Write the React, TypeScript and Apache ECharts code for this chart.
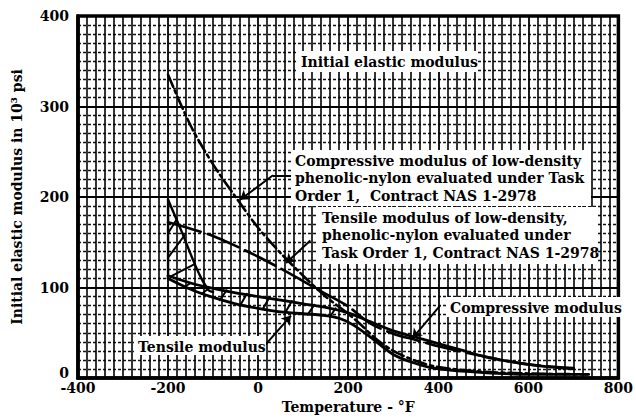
import React, { useEffect, useRef } from 'react';
import * as echarts from 'echarts';

type Pt = [number, number];

// Axis ranges and tick steps
const xRange: Pt = [-400, 800];
const yRange: Pt = [0, 400];
const xStep = 200;
const yStep = 100;

// Compressive modulus, low-density phenolic-nylon, Task Order 1 (dash-dot)
const compressiveTO1: Pt[] = [
  [-200, 335], [-150, 279], [-100, 236], [-50, 200], [0, 166], [50, 138],
  [100, 113], [150, 90], [200, 71], [230, 58], [260, 44], [300, 30],
  [350, 19], [400, 12], [500, 7], [600, 5], [730, 4],
];

// Tensile modulus, low-density phenolic-nylon, Task Order 1 (long dash)
const tensileTO1: Pt[] = [
  [-200, 172], [-150, 165], [-100, 157], [-50, 146], [0, 134], [50, 121],
  [100, 107], [150, 93], [200, 79], [250, 60], [300, 49], [350, 42],
  [400, 35], [500, 24], [600, 15], [700, 11],
];

// Compressive modulus (upper edge of the scatter band, then the compressive curve)
const compressiveModulus: Pt[] = [
  [-200, 113], [-150, 105], [-100, 99], [-50, 94], [0, 90], [50, 86],
  [100, 82], [150, 78], [200, 72], [250, 62], [300, 52], [350, 45],
  [400, 38], [450, 31], [500, 24], [550, 19], [600, 15], [650, 12], [700, 10],
];

// Tensile modulus (lower edge of the scatter band, then the tensile curve)
const tensileModulus: Pt[] = [
  [-200, 110], [-150, 98], [-100, 89], [-50, 82], [0, 77], [50, 73],
  [100, 71], [150, 69], [180, 66], [210, 59], [250, 45], [300, 26],
  [350, 16], [400, 10], [500, 6], [600, 4], [734, 4],
];

// Low-temperature tensile scatter wedge: outer edges
const wedgeRight: Pt[] = [[-200, 197], [-170, 162], [-145, 131], [-128, 112], [-110, 97], [-100, 95]];
const wedgeLeft: Pt[] = [[-200, 197], [-200, 110]];

// Hatching inside the wedge and the band
const hatchSegments: Pt[][] = [
  [[-200, 133], [-163, 158]],
  [[-200, 160], [-180, 176]],
  [[-195, 112], [-140, 126]],
  [[-165, 100], [-150, 105]],
  [[-125, 93], [-110, 99]],
  [[-85, 86], [-70, 97]],
  [[-40, 80], [-25, 93]],
  [[10, 76], [25, 89]],
  [[60, 72], [75, 85]],
  [[110, 70], [125, 81]],
  [[160, 68], [172, 77]],
];

// Pointer arrows from the notes to the curves
const pointers: { from: Pt; to: Pt; head: boolean }[] = [
  { from: [76, 224], to: [33, 224], head: false },
  { from: [33, 224], to: [-40, 197], head: true },
  { from: [116, 152], to: [62, 127], head: true },
  { from: [404, 80], to: [343, 44], head: true },
  { from: [15, 36], to: [73, 69], head: true },
];

// Notes
const noteInitial = ['Initial elastic modulus'];
const noteCompressiveTO1 = [
  'Compressive modulus of low-density',
  'phenolic-nylon evaluated under Task',
  'Order 1,  Contract NAS 1-2978',
];
const noteTensileTO1 = [
  'Tensile modulus of low-density,',
  'phenolic-nylon evaluated under',
  'Task Order 1, Contract NAS 1-2978',
];
const noteCompressive = ['Compressive modulus'];
const noteTensile = ['Tensile modulus'];

const xTitle = 'Temperature - °F';
const yTitle = 'Initial elastic modulus in 10³ psi';

const SERIF = "'DejaVu Serif', 'Liberation Serif', serif";
const INK = '#000';

function noteBox(lines: string[], x: number, y: number, w: number, h: number, size = 14) {
  return {
    type: 'group',
    children: [
      { type: 'rect', z: 100, shape: { x, y, width: w, height: h }, style: { fill: '#fff' } },
      {
        type: 'text',
        z: 101,
        x: x + 4,
        y: y + 2,
        style: {
          text: lines.join('\n'),
          fontFamily: SERIF,
          fontWeight: 'bold',
          fontSize: size,
          fill: INK,
          lineHeight: 17.5,
        },
      },
    ],
  };
}

export default function App() {
  const ref = useRef<HTMLDivElement>(null);

  useEffect(() => {
    if (!ref.current) return;
    const chart = echarts.init(ref.current, null, { renderer: 'svg' });

    const line = (data: Pt[], width: number, type: any = 'solid') => ({
      type: 'line',
      data,
      showSymbol: false,
      symbol: 'none',
      smooth: 0.3,
      silent: true,
      lineStyle: { color: INK, width, type, cap: 'round' },
      z: 5,
    });

    const series: any[] = [
      line(compressiveTO1, 2.6, [13, 4, 3, 4]),
      line(tensileTO1, 2.6, [34, 7]),
      line(compressiveModulus, 2.8),
      {
        ...line(tensileModulus, 2.8),
        markLine: {
          silent: true,
          symbol: ['none', 'arrow'],
          symbolSize: 9,
          label: { show: false },
          lineStyle: { color: INK, width: 2, type: 'solid' },
          data: pointers.map((p) => [
            { coord: p.from, symbol: 'none' },
            { coord: p.to, symbol: p.head ? 'arrow' : 'none' },
          ]),
        },
      },
      line(wedgeRight, 2.4),
      { ...line(wedgeLeft, 2.4), smooth: false },
      ...hatchSegments.map((s) => ({ ...line(s, 2), smooth: false })),
    ];

    const axisLabel = {
      color: INK,
      fontFamily: SERIF,
      fontWeight: 'bold',
      fontSize: 14,
    };

    chart.setOption({
      animation: false,
      backgroundColor: '#fff',
      grid: {
        left: 78,
        right: 10,
        top: 16,
        bottom: 39,
        show: true,
        borderColor: INK,
        borderWidth: 3.5,
        backgroundColor: 'transparent',
      },
      xAxis: {
        type: 'value',
        min: xRange[0],
        max: xRange[1],
        interval: xStep,
        name: xTitle,
        nameLocation: 'middle',
        nameGap: 22,
        nameTextStyle: { ...axisLabel, fontSize: 14 },
        axisLine: { show: true, onZero: false, lineStyle: { color: INK, width: 3.5 } },
        axisTick: { show: false },
        axisLabel: { ...axisLabel, margin: 3 },
        splitLine: { show: true, lineStyle: { color: INK, width: 1.8 } },
        minorTick: { show: false, splitNumber: 10 },
        minorSplitLine: { show: true, lineStyle: { color: INK, width: 1.6 } },
      },
      yAxis: {
        type: 'value',
        min: yRange[0],
        max: yRange[1],
        interval: yStep,
        name: yTitle,
        nameLocation: 'middle',
        nameRotate: 90,
        nameGap: 54,
        nameTextStyle: { ...axisLabel, fontSize: 14 },
        axisLine: { show: true, onZero: false, lineStyle: { color: INK, width: 3.5 } },
        axisTick: { show: false },
        axisLabel: {
          ...axisLabel,
          margin: 9,
          formatter: (v: number) => (v === yRange[0] ? `{low|${v}}` : `${v}`),
          rich: { low: { ...axisLabel, padding: [0, 0, 10, 0] } },
        },
        splitLine: { show: true, lineStyle: { color: INK, width: 1.8 } },
        minorTick: { show: false, splitNumber: 10 },
        minorSplitLine: { show: true, lineStyle: { color: '#111', width: 1.3, type: [3, 2] } },
      },
      series,
      graphic: [
        noteBox(noteInitial, 297, 51, 181, 21),
        noteBox(noteCompressiveTO1, 291, 150, 300, 56),
        noteBox(noteTensileTO1, 318, 207, 280, 57),
        noteBox(noteCompressive, 446, 297, 175, 20),
        noteBox(noteTensile, 134, 336, 132, 19),
      ],
    });

    return () => chart.dispose();
  }, []);

  return (
    <div
      ref={ref}
      style={{ position: 'fixed', left: 0, top: 0, width: 636, height: 419, background: '#fff' }}
    />
  );
}
